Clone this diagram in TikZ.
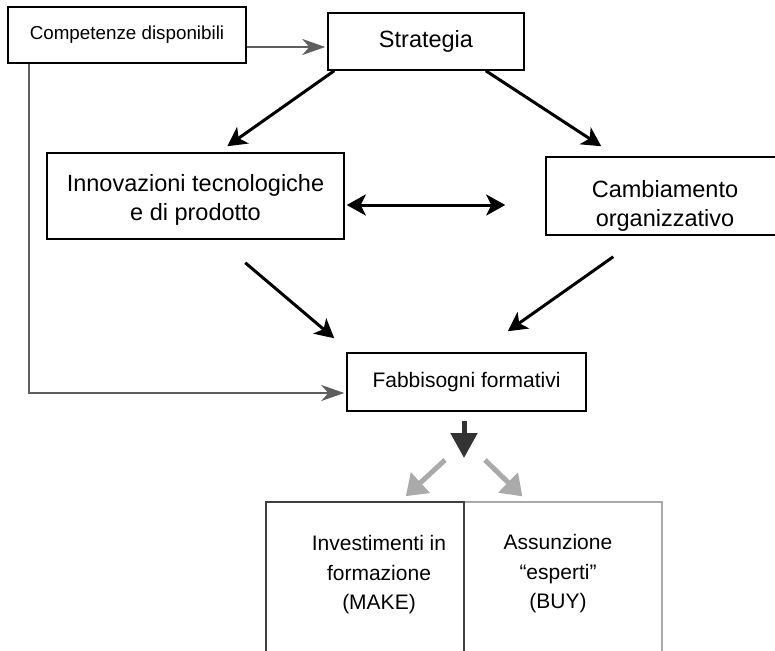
\documentclass[tikz,border=0pt]{standalone}
\usepackage{fontspec}
\setmainfont{Liberation Sans}
\usetikzlibrary{arrows.meta,calc}
\definecolor{linegray}{HTML}{5E5E5E}
\definecolor{darkarr}{HTML}{333333}
\definecolor{palegray}{HTML}{AAAAAA}
\definecolor{makegray}{HTML}{404040}
\newcommand\fsBig{\fontsize{23.5}{28.5}\selectfont}
\newcommand\fsMid{\fontsize{21}{29.5}\selectfont}
\newcommand\fsSmall{\fontsize{18.8}{22}\selectfont}
\begin{document}
\begin{tikzpicture}[x=1pt,y=-1pt,
  box/.style={draw=black, line width=1.5pt, inner sep=0pt, align=center},
  txt/.style={inner sep=0pt, align=center},
  blkarr/.style={line width=3pt, -{Stealth[length=19pt,width=20pt,inset=5pt]}},
  blkdbl/.style={line width=3pt, {Stealth[length=19pt,width=21pt,inset=5pt]}-{Stealth[length=19pt,width=21pt,inset=5pt]}},
  grayarr/.style={draw=linegray, line width=1.8pt, -{Stealth[length=23pt,width=16pt,inset=7pt]}},
  darkdown/.style={draw=darkarr, line width=5pt, -{Triangle[length=25pt,width=26pt]}},
  palearr/.style={draw=palegray, line width=5pt, -{Triangle[length=20pt,width=27pt]}}]
\useasboundingbox (0,0) rectangle (775,650);

% boxes
\node[box, minimum width=238pt, minimum height=56pt, font=\fsSmall] (comp) at (127,35) {Competenze disponibili};
\node[box, minimum width=196pt, minimum height=57pt, font=\fsBig] (strat) at (426,41.5) {Strategia};
\node[box, minimum width=297pt, minimum height=86pt] (innov) at (195.5,196) {};
\node[txt, font=\fsBig] (innovtext) at (195.5,200) {Innovazioni tecnologiche\\e di prodotto};
\node[box, minimum width=240pt, minimum height=78pt] (camb) at (666,196) {};
\node[txt, font=\fsBig] (cambtext) at (665,206) {Cambiamento\\organizzativo};
\node[box, minimum width=239pt, minimum height=58pt, font=\fsMid] (fab) at (466.5,382) {Fabbisogni formativi};
\node[draw=palegray, line width=1.2pt, inner sep=0pt, minimum width=198pt, minimum height=170pt] (buy) at (563,587) {};
\node[draw=makegray, line width=1.6pt, inner sep=0pt, minimum width=198pt, minimum height=170pt] (make) at (365,587) {};
\node[txt, font=\fsMid] (maketext) at (379,575) {Investimenti in\\formazione\\(MAKE)};
\node[txt, font=\fsMid] (buytext) at (558,574) {Assunzione\\“esperti”\\(BUY)};

% connectors
\draw[grayarr] ([yshift=-12pt]comp.east) -- ([xshift=-2pt,yshift=-5.5pt]strat.west);
\draw[grayarr] ([xshift=22pt]comp.south west) |- ([xshift=-2pt,yshift=-11pt]fab.west);
\draw[blkarr] ([xshift=7pt]strat.south west) -- ([xshift=181pt,yshift=6pt]innov.north west);
\draw[blkarr] ([xshift=-39pt]strat.south east) -- ([xshift=56pt,yshift=10pt]camb.north west);
\draw[blkdbl] ([xshift=2pt,yshift=-9pt]innov.east) -- ([xshift=-40pt,yshift=-9pt]camb.west);
\draw[blkarr] ([xshift=199pt,yshift=-23pt]innov.south west) -- ([xshift=-12pt,yshift=14pt]fab.north west);
\draw[blkarr] ([xshift=68pt,yshift=-21pt]camb.south west) -- ([xshift=-79pt,yshift=21pt]fab.north east);
\coordinate (split) at (464,458);
\draw[darkdown] ([xshift=-2.5pt,yshift=-9pt]fab.south) -- (split);
\draw[palearr] ([xshift=-19pt,yshift=-2pt]split) -- ([xshift=-59pt,yshift=5pt]make.north east);
\draw[palearr] ([xshift=21pt,yshift=-2pt]split) -- ([xshift=59pt,yshift=5pt]buy.north west);
\end{tikzpicture}
\end{document}
